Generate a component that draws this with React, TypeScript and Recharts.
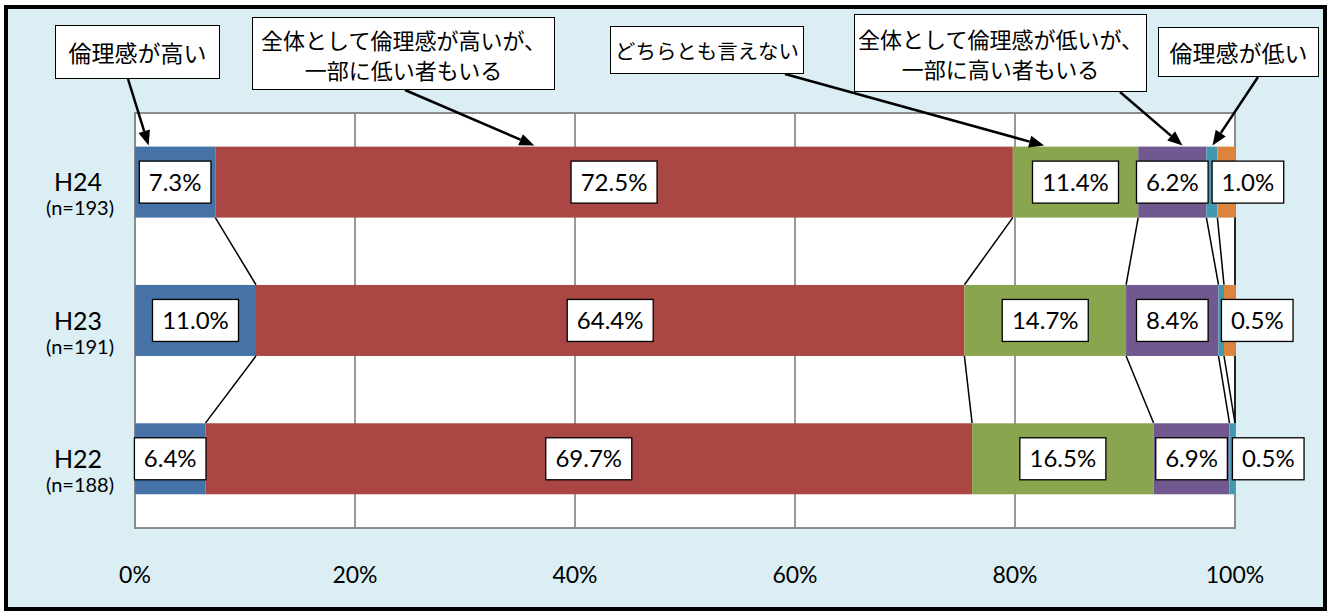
import React from "react";
import {
  BarChart,
  Bar,
  XAxis,
  YAxis,
  CartesianGrid,
  ReferenceArea,
  LabelList
} from "recharts";

// survey years (rows, top to bottom) and sample sizes
const categories = ["H24", "H23", "H22"];
const sampleSizes = ["(n=193)", "(n=191)", "(n=188)"];

const seriesNames = [
  "倫理感が高い",
  "全体として倫理感が高いが、一部に低い者もいる",
  "どちらとも言えない",
  "全体として倫理感が低いが、一部に高い者もいる",
  "倫理感が低い",
  "無回答"
];

// percentages per row (H24, H23, H22)
const high = [7.3, 11.0, 6.4];
const mostlyHigh = [72.5, 64.4, 69.7];
const neutral = [11.4, 14.7, 16.5];
const mostlyLow = [6.2, 8.4, 6.9];
const low = [1.0, 0.5, 0.5];
const noAnswer = [1.6, 1.0, 0.0];

const xTicks = [0, 20, 40, 60, 80, 100];

const seriesValues = [high, mostlyHigh, neutral, mostlyLow, low, noAnswer];
const seriesKeys = ["high", "mostlyHigh", "neutral", "mostlyLow", "low", "noAnswer"];
const colors = ["#4572A7", "#AA4643", "#89A54E", "#71588F", "#4198AF", "#DB843D"];

const data = categories.map((name, i) => {
  const row: Record<string, any> = { name };
  seriesValues.forEach((vals, s) => {
    row[seriesKeys[s]] = vals[i];
  });
  return row;
});

const GAP = 0.243;
const FONT = "Lato, 'Noto Sans', sans-serif";
const JP_FONT = "'Noto Sans CJK JP', 'Noto Sans', sans-serif";

// cumulative end of series s in row i
function cumEnd(i: number, s: number) {
  let t = 0;
  for (let k = 0; k <= s; k++) t += seriesValues[k][i];
  return t;
}

// callout boxes above the chart (layout only)
const callouts = [
  { lines: ["倫理感が高い"], left: 55, top: 25, w: 165, h: 54, from: [128, 79], tip: 0.17 },
  { lines: ["全体として倫理感が高いが、", "一部に低い者もいる"], left: 252, top: 17, w: 303, h: 73, from: [405, 90], tip: 0.4 },
  { lines: ["どちらとも言えない"], left: 610, top: 26, w: 194, h: 48, from: [785, 74], tip: 0.25 },
  { lines: ["全体として倫理感が低いが、", "一部に高い者もいる"], left: 854, top: 14, w: 293, h: 78, from: [1120, 92], tip: 0.65 },
  { lines: ["倫理感が低い"], left: 1158, top: 27, w: 161, h: 50, from: [1258, 77], tip: 0.55 }
];

function Arrow({ x1, y1, x2, y2 }: { x1: number; y1: number; x2: number; y2: number }) {
  const dx = x2 - x1;
  const dy = y2 - y1;
  const len = Math.hypot(dx, dy) || 1;
  const ux = dx / len;
  const uy = dy / len;
  const hl = 15;
  const hw = 6;
  const bx = x2 - ux * hl;
  const by = y2 - uy * hl;
  return (
    <g>
      <line x1={x1} y1={y1} x2={bx} y2={by} stroke="#000" strokeWidth={2.5} />
      <polygon
        points={`${x2},${y2} ${bx - uy * hw},${by + ux * hw} ${bx + uy * hw},${by - ux * hw}`}
        fill="#000"
      />
    </g>
  );
}

const makeShape = (s: number) => (props: any) => {
  const { x, y, width, height, index } = props;
  const value = seriesValues[s][index];
  const parts: React.ReactNode[] = [];
  if (width > 0) {
    parts.push(<rect key="r" x={x} y={y} width={width} height={height} fill={colors[s]} />);
  }
  if (value > 0 && width > 0) {
    const ppu = width / value;
    const origin = x - ppu * (cumEnd(index, s) - value);
    // series line to next row
    if (index < categories.length - 1) {
      const band = height / (1 - 2 * GAP);
      parts.push(
        <line
          key="sl"
          x1={x + width}
          y1={y + height}
          x2={origin + ppu * cumEnd(index + 1, s)}
          y2={y + band}
          stroke="#000"
          strokeWidth={1.5}
        />
      );
    }
    // callout arrows on the top row
    if (index === 0 && callouts[s]) {
      const c = callouts[s];
      parts.push(
        <Arrow key="ar" x1={c.from[0]} y1={c.from[1]} x2={x + width * c.tip} y2={y - 1} />
      );
    }
  }
  return <g>{parts}</g>;
};

const makeLabel = (s: number) => (props: any) => {
  const vb = props.viewBox || props;
  const x = vb.x ?? props.x;
  const y = vb.y ?? props.y;
  const width = vb.width ?? props.width;
  const height = vb.height ?? props.height;
  const idx = props.index;
  const v = idx !== undefined ? seriesValues[s][idx] : Number(props.value);
  const text = v.toFixed(1) + "%";
  const cx = x + width / 2 + (s === 4 ? 36 : 0);
  const cy = y + height / 2;
  const bw = 14 + text.length * 14.4;
  const bh = 42;
  return (
    <g>
      <rect x={cx - bw / 2} y={cy - bh / 2} width={bw} height={bh} fill="#fff" stroke="#000" strokeWidth={1.3} />
      <text x={cx} y={cy + 8.5} textAnchor="middle" fontSize={24} fontFamily={FONT} fill="#000">
        {text}
      </text>
    </g>
  );
};

const YTick = (props: any) => {
  const { x, y, payload } = props;
  const i = categories.indexOf(payload.value);
  return (
    <g>
      <text x={x - 57} y={y + 9} textAnchor="middle" fontSize={25} fontFamily={FONT} fill="#000">
        {payload.value}
      </text>
      <text x={x - 55} y={y + 33} textAnchor="middle" fontSize={20} fontFamily={FONT} fill="#000">
        {sampleSizes[i]}
      </text>
    </g>
  );
};

const XTick = (props: any) => {
  const { x, y, payload } = props;
  return (
    <text x={x} y={y + 55} textAnchor="middle" fontSize={23} fontFamily={FONT} fill="#000">
      {payload.value + "%"}
    </text>
  );
};

const calloutFontSize = (c: { lines: string[]; w: number }) => {
  if (c.lines.length > 1) return 22;
  const maxLen = Math.max(...c.lines.map((l) => l.length));
  return Math.min(23, (c.w - 10) / maxLen);
};

const App: React.FC = () => {
  return (
    <div style={{ position: "absolute", left: 0, top: 0, width: 1333, height: 614 }}>
      <div
        style={{
          position: "absolute",
          left: 4,
          top: 5,
          width: 1323,
          height: 606,
          boxSizing: "border-box",
          border: "4px solid #000",
          background: "#DAEEF3"
        }}
      />
      <div style={{ position: "absolute", left: 0, top: 0 }}>
        <BarChart
          width={1333}
          height={614}
          data={data}
          layout="vertical"
          barCategoryGap={`${GAP * 100}%`}
          margin={{ top: 113, right: 98, left: 15, bottom: 26 }}
        >
          <CartesianGrid horizontal={false} stroke="#9a9a9a" strokeWidth={2} fill="#fff" />
          <ReferenceArea x1={0} x2={100} fill="none" fillOpacity={0} stroke="#8c8c8c" strokeWidth={2} />
          <XAxis
            type="number"
            domain={[0, 100]}
            ticks={xTicks}
            axisLine={false}
            tickLine={false}
            tickSize={0}
            tickMargin={0}
            height={60}
            tick={<XTick />}
            interval={0}
          />
          <YAxis
            type="category"
            dataKey="name"
            width={120}
            axisLine={false}
            tickLine={false}
            tickSize={0}
            tickMargin={0}
            tick={<YTick />}
          />
          {seriesKeys.map((k, s) => (
            <Bar
              key={k}
              dataKey={k}
              name={seriesNames[s]}
              stackId="a"
              fill={colors[s]}
              isAnimationActive={false}
              shape={makeShape(s)}
            >
              {s < 5 && <LabelList dataKey={k} content={makeLabel(s)} />}
            </Bar>
          ))}
        </BarChart>
      </div>
      {callouts.map((c, i) => (
        <div
          key={i}
          style={{
            position: "absolute",
            left: c.left,
            top: c.top,
            width: c.w,
            height: c.h,
            boxSizing: "border-box",
            border: "1.5px solid #000",
            background: "#fff",
            display: "flex",
            flexDirection: "column",
            justifyContent: "center",
            alignItems: "center",
            fontFamily: JP_FONT,
            fontSize: calloutFontSize(c),
            lineHeight: "30px",
            color: "#000",
            whiteSpace: "nowrap"
          }}
        >
          {c.lines.map((l, j) => (
            <div key={j}>{l}</div>
          ))}
        </div>
      ))}
    </div>
  );
};

export default App;
